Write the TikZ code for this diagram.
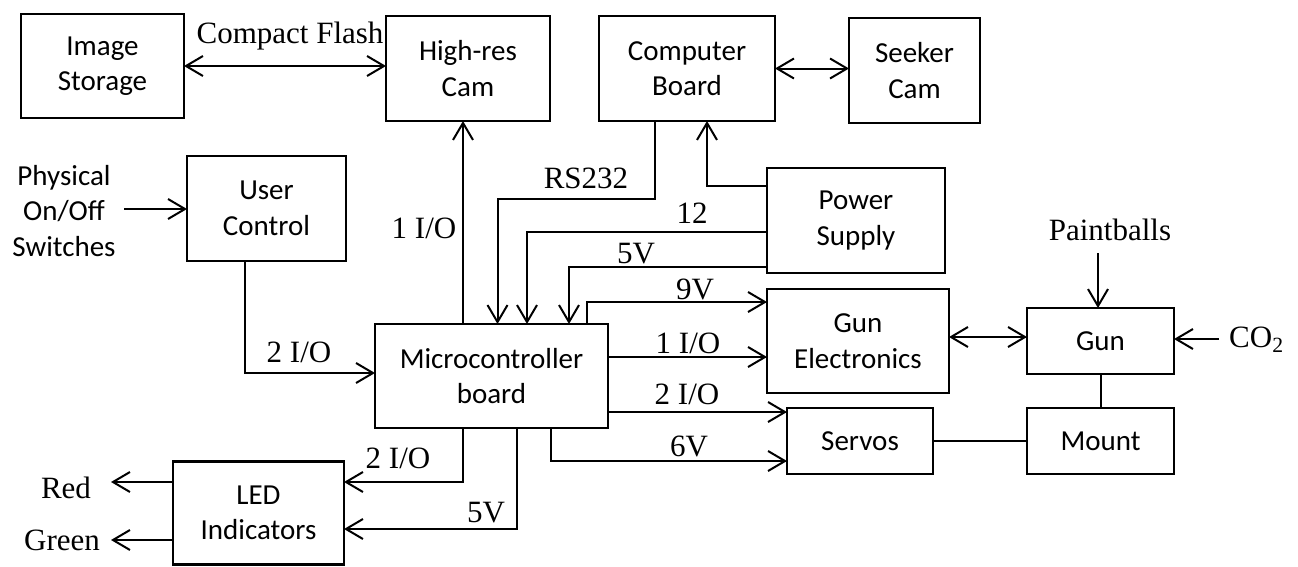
\documentclass[tikz,border=0pt]{standalone}
\usepackage{fontspec}
\setmainfont{Liberation Serif}
\newfontfamily\boxfont{Carlito}
\usetikzlibrary{arrows.meta}
\begin{document}
\begin{tikzpicture}[x=1pt,y=-1pt,
  blk/.style={draw, line width=2.3pt, inner sep=0pt, outer sep=0pt, align=center,
    font=\boxfont\fontsize{29}{35.5}\selectfont},
  lbl/.style={inner sep=0pt, anchor=base, font=\fontsize{31}{36}\selectfont},
  conn/.style={line width=2pt},
  tip/.style={Straight Barb[length=17pt,width=20pt,line width=2pt]},
  arr/.style={conn, -{Straight Barb[length=17pt,width=20pt,line width=2pt]}},
  darr/.style={conn, {Straight Barb[length=17pt,width=20pt,line width=2pt]}-{Straight Barb[length=17pt,width=20pt,line width=2pt]}}
]
\useasboundingbox (0,0) rectangle (1298,566);
% boxes
\node[blk, minimum width=163pt, minimum height=104pt] (store) at (102.5,66) {Image\\Storage};
\node[blk, minimum width=164pt, minimum height=105pt] (hires) at (468,68.5) {High-res\\Cam};
\node[blk, minimum width=176pt, minimum height=105pt] (comp) at (687,68.5) {Computer\\Board};
\node[blk, minimum width=131pt, minimum height=105pt] (seek) at (914.5,70.5) {Seeker\\Cam};
\node[blk, minimum width=159pt, minimum height=105pt] (user) at (266.5,208.5) {User\\Control};
\node[blk, minimum width=178pt, minimum height=105pt] (power) at (856,220.5) {Power\\Supply};
\node[blk, minimum width=233pt, minimum height=104pt] (micro) at (491.5,376) {Microcontroller\\board};
\node[blk, minimum width=182pt, minimum height=104pt] (gunel) at (858,341) {Gun\\Electronics};
\node[blk, minimum width=147pt, minimum height=66pt] (gun) at (1100.5,341) {Gun};
\node[blk, minimum width=146pt, minimum height=66pt] (servos) at (860,441) {Servos};
\node[blk, minimum width=147pt, minimum height=66pt] (mount) at (1100.5,441) {Mount};
\node[blk, minimum width=171pt, minimum height=103pt] (led) at (258.5,513) {LED\\Indicators};
% free texts
\node[blk, draw=none] (phys) at (64,211) {Physical\\On/Off\\Switches};
\node[lbl] (cf) at (290,43) {Compact Flash};
\node[lbl] (lio1) at (424,238) {1 I/O};
\node[lbl] (lrs) at (586,188) {RS232};
\node[lbl] (l12) at (692,223) {12};
\node[lbl] (l5a) at (636,263) {5V};
\node[lbl] (l9) at (695,299) {9V};
\node[lbl] (lio1b) at (688,353) {1 I/O};
\node[lbl] (lio2b) at (687,404) {2 I/O};
\node[lbl] (l6) at (689,456) {6V};
\node[lbl] (lio2a) at (299,362) {2 I/O};
\node[lbl] (lio2c) at (398,468) {2 I/O};
\node[lbl] (l5b) at (486,522) {5V};
\node[lbl] (lred) at (66,498) {Red};
\node[lbl] (lgreen) at (62,550) {Green};
\node[lbl] (lpb) at (1110,240) {Paintballs};
\node[lbl, anchor=base west] (lco) at (1229,347) {CO\textsubscript{2}};
% bend / end coordinates
\coordinate (physend) at (124,209);
\coordinate (ucx) at (245,373);
\coordinate (hrx) at (463,0);
\coordinate (rs) at (497.5,199);
\coordinate (rsx) at (655,0);
\coordinate (tw) at (527,232);
\coordinate (fv) at (569,267);
\coordinate (pc) at (707,186);
\coordinate (nine) at (587,302);
\coordinate (io1) at (608,357);
\coordinate (io2) at (608,412);
\coordinate (six) at (551,461);
\coordinate (ledio) at (463,482);
\coordinate (led5) at (517,529);
\coordinate (redend) at (111,482);
\coordinate (greenend) at (111,540);
\coordinate (ge) at (949,337);
\coordinate (pb) at (1098,253);
\coordinate (co) at (1219,339);
% connectors
\draw[darr] (store.east) -- (store.east -| hires.west);
\draw[darr] (comp.east) -- (comp.east -| seek.west);
\draw[arr] (physend) -- (physend -| user.west);
\draw[arr] (ucx |- user.south) -- (ucx) -- (ucx -| micro.west);
\draw[arr] (hrx |- micro.north) -- (hrx |- hires.south);
\draw[arr] (rsx |- comp.south) |- (rs) -- (rs |- micro.north);
\draw[arr] (tw -| power.west) -- (tw) -- (tw |- micro.north);
\draw[arr] (fv -| power.west) -- (fv) -- (fv |- micro.north);
\draw[arr] (pc -| power.west) -- (pc) -- (pc |- comp.south);
\draw[arr] (nine |- micro.north) -- (nine) -- (nine -| gunel.west);
\draw[arr] (io1) -- (io1 -| gunel.west);
\draw[arr] (io2) -- (io2 -| servos.west);
\draw[arr] (six |- micro.south) -- (six) -- (six -| servos.west);
\draw[arr] (ledio |- micro.south) -- (ledio) -- (ledio -| led.east);
\draw[arr] (led5 |- micro.south) -- (led5) -- (led5 -| led.east);
\draw[arr] (redend -| led.west) -- (redend);
\draw[arr] (greenend -| led.west) -- (greenend);
\draw[darr] (ge) -- (ge -| gun.west);
\draw[conn] (gun.south) -- (mount.north);
\draw[conn] (servos.east) -- (mount.west);
\draw[arr] (pb) -- (pb |- gun.north);
\draw[arr] (co) -- (co -| gun.east);
\end{tikzpicture}
\end{document}
